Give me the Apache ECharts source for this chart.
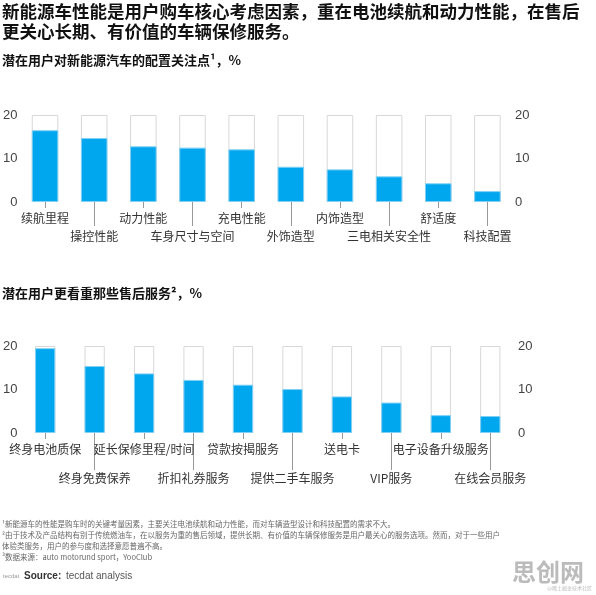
<!DOCTYPE html>
<html><head><meta charset="utf-8">
<script src="https://cdn.jsdelivr.net/npm/echarts@6/dist/echarts.min.js"></script>
<style>html,body{margin:0;padding:0;background:#fff}#c{width:596px;height:595px}</style>
</head><body><div id="c"></div>
<script>
// 配置关注点
var cats1 = ['续航里程','操控性能','动力性能','车身尺寸与空间','充电性能','外饰造型','内饰造型','三电相关安全性','舒适度','科技配置'];
var vals1 = [16.5, 14.7, 12.8, 12.5, 12.1, 8.1, 7.5, 5.9, 4.3, 2.5];
// 售后服务
var cats2 = ['终身电池质保','终身免费保养','延长保修里程/时间','折扣礼券服务','贷款按揭服务','提供二手车服务','送电卡','VIP服务','电子设备升级服务','在线会员服务'];
var vals2 = [19.5, 15.4, 13.7, 12.2, 11.1, 10.1, 8.4, 7.0, 4.1, 3.9];
var yTicks = [0, 10, 20];

var font = '"Noto Sans CJK SC", sans-serif';
var blue = '#00a6ee';
var full = function (arr) { return arr.map(function () { return yTicks[yTicks.length - 1]; }); };
var even = function (i) { return i % 2 === 0; };
var odd = function (i) { return i % 2 === 1; };

function xAxes(gi, cats, lowMargin, lowTick) {
  var base = { type: 'category', gridIndex: gi, position: 'bottom', data: cats, axisLine: { show: false } };
  var tick = function (iv, len) {
    return { show: true, alignWithLabel: true, interval: iv, length: len, lineStyle: { color: '#999' } };
  };
  return [
    Object.assign({}, base, { axisTick: tick(even, 6),
      axisLabel: { interval: even, margin: 10, color: '#333', fontSize: 12, fontFamily: font } }),
    Object.assign({}, base, { axisTick: tick(odd, lowTick),
      axisLabel: { interval: odd, margin: lowMargin, color: '#333', fontSize: 12, fontFamily: font } })
  ];
}
function yAxes(gi) {
  var b = { type: 'value', gridIndex: gi, min: 0, max: 20, interval: 10, splitLine: { show: false },
    axisLine: { show: false }, axisTick: { show: false },
    axisLabel: { color: '#444', fontSize: 13, margin: 3, fontFamily: 'Liberation Sans' } };
  return [Object.assign({ position: 'left' }, b), Object.assign({ position: 'right' }, b)];
}
function series(xi, yi, vals, w) {
  return [
    { type: 'bar', xAxisIndex: xi, yAxisIndex: yi, data: full(vals), barWidth: w, silent: true,
      itemStyle: { color: '#fff', borderColor: '#d8d8d8', borderWidth: 1 } },
    { type: 'bar', xAxisIndex: xi, yAxisIndex: yi, data: vals, barWidth: w, barGap: '-100%',
      itemStyle: { color: blue, borderColor: '#7fd0f5', borderWidth: 1 } }
  ];
}

var chart = echarts.init(document.getElementById('c'));
chart.setOption({
  animation: false,
  grid: [
    { left: 9, top: 115, width: 503, height: 87 },
    { left: 6, top: 346, width: 509, height: 87 }
  ],
  xAxis: xAxes(0, cats1, 28, 24).concat(xAxes(1, cats2, 39, 37)),
  yAxis: yAxes(0).concat(yAxes(1)),
  series: series(0, 0, vals1, '54%').concat(series(2, 2, vals2, '41%')),
  graphic: [
    { type: 'text', left: 2, top: 1, style: { text: '新能源车性能是用户购车核心考虑因素，重在电池续航和动力性能，在售后\n更关心长期、有价值的车辆保修服务。',
      font: 'bold 17.5px ' + font, fill: '#111', lineHeight: 20 } },
    { type: 'text', left: 2, top: 54, style: { text: '潜在用户对新能源汽车的配置关注点¹，%', font: 'bold 13px ' + font, fill: '#111' } },
    { type: 'text', left: 2, top: 287, style: { text: '潜在用户更看重那些售后服务²，%', font: 'bold 13px ' + font, fill: '#111' } },
    { type: 'text', left: 2, top: 519, style: { text: '¹新能源车的性能是购车时的关键考量因素，主要关注电池续航和动力性能，而对车辆造型设计和科技配置的需求不大。\n²由于技术及产品结构有别于传统燃油车，在以服务为重的售后领域，提供长期、有价值的车辆保修服务是用户最关心的服务选项。然而，对于一些用户\n体验类服务，用户的参与度和选择意愿普遍不高。\n³数据来源：auto motorund sport，YooClub',
      font: '7.5px ' + font, fill: '#666', lineHeight: 11 } },
    { type: 'text', left: 24, top: 571, style: { text: 'Source: ', font: 'bold 10px Liberation Sans', fill: '#333' } },
    { type: 'text', left: 66, top: 571, style: { text: 'tecdat analysis', font: '10px Liberation Sans', fill: '#555' } },
    { type: 'text', left: 3, top: 573, style: { text: 'tecdat', font: '6px Liberation Sans', fill: '#999' } },
    { type: 'text', right: 12, top: 560, style: { text: '思创网', font: 'bold 24px ' + font, fill: '#bbb' } },
    { type: 'text', right: 4, top: 586, style: { text: '@稀土掘金技术社区', font: '5px ' + font, fill: '#bbb' } }
  ]
});
</script></body></html>
